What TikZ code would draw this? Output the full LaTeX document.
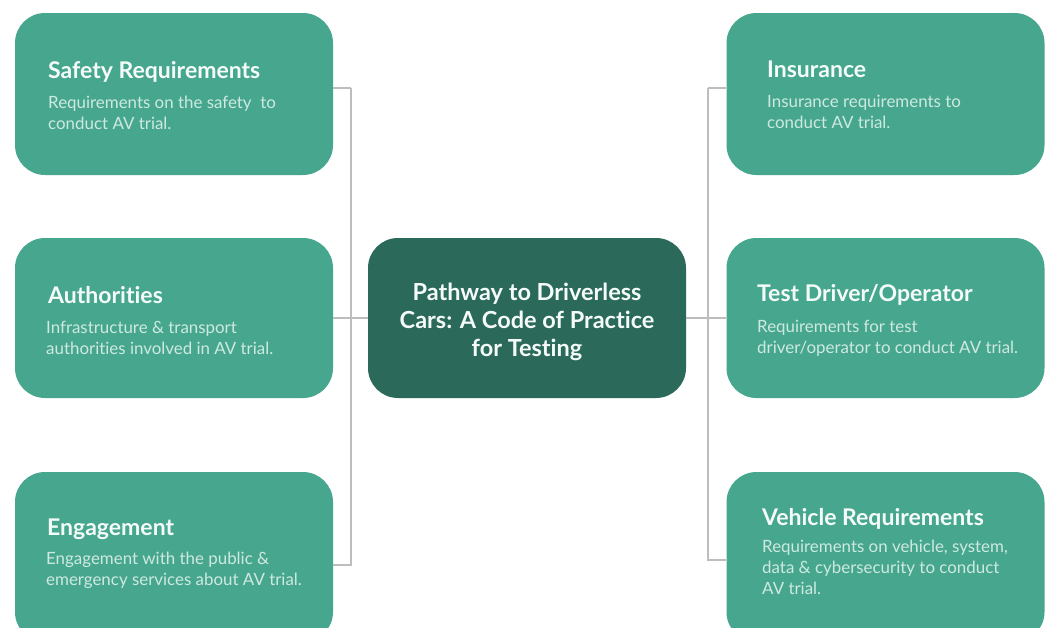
\documentclass[tikz,border=0pt]{standalone}
\usepackage{fontspec}
\setmainfont{Lato}[Ligatures=CommonOff]
\definecolor{boxgreen}{HTML}{46A78E}
\definecolor{darkgreen}{HTML}{2B6A5A}
\definecolor{linegray}{HTML}{BDBDBD}
\definecolor{titlewhite}{HTML}{F5FBF9}
\definecolor{descwhite}{HTML}{CFE9E1}
\begin{document}
\begin{tikzpicture}[x=1pt,y=-1pt,
  lbox/.style={fill=boxgreen,rounded corners=30pt,minimum width=318pt,inner sep=0pt},
  cbox/.style={fill=darkgreen,rounded corners=30pt,minimum width=318pt,minimum height=160pt,inner sep=0pt},
  ttl/.style={anchor=base west,inner sep=0pt,text=titlewhite,font=\fontsize{23}{27}\selectfont\bfseries},
  dsc/.style={anchor=base west,inner sep=0pt,text=descwhite,font=\fontsize{16.9}{21}\selectfont},
  ctxt/.style={inner sep=0pt,text=titlewhite,align=center,font=\fontsize{23.5}{28}\selectfont\bfseries},
  conn/.style={draw=linegray,line width=2pt}]
\useasboundingbox (0,0) rectangle (1052,627);
\fill[white] (0,0) rectangle (1052,627);
\begin{scope}
\clip (0,0) rectangle (1052,627);
% boxes
\node[lbox,minimum height=162pt] (safety) at (174,94) {};
\node[lbox,minimum height=160pt] (auth) at (174,318) {};
\node[lbox,minimum height=170pt] (engage) at (174,557) {};
\node[lbox,minimum height=162pt] (ins) at (885.5,94) {};
\node[lbox,minimum height=160pt] (test) at (885.5,318) {};
\node[lbox,minimum height=170pt] (veh) at (885.5,557) {};
\node[cbox] (center) at (527,318) {};
\end{scope}
% center text
\node[ctxt] (ctext) at (527,322) {Pathway to Driverless\\Cars: A Code of Practice\\for Testing};
% titles and descriptions
\node[ttl] (t1) at (48,78) {Safety Requirements};
\node[dsc] (d1a) at (48,108) {Requirements on the safety\ \ to};
\node[dsc] (d1b) at (48,129) {conduct AV trial.};
\node[ttl] (t2) at (48,303) {Authorities};
\node[dsc] (d2a) at (46,333) {Infrastructure \& transport};
\node[dsc] (d2b) at (46,354) {authorities involved in AV trial.};
\node[ttl] (t3) at (47,535) {Engagement};
\node[dsc] (d3a) at (46,564) {Engagement with the public \&};
\node[dsc] (d3b) at (46,585) {emergency services about AV trial.};
\node[ttl] (t4) at (767,77) {Insurance};
\node[dsc] (d4a) at (767,107) {Insurance requirements to};
\node[dsc] (d4b) at (767,128) {conduct AV trial.};
\node[ttl] (t5) at (757,301) {Test Driver/Operator};
\node[dsc] (d5a) at (757,332) {Requirements for test};
\node[dsc] (d5b) at (757,353) {driver/operator to conduct AV trial.};
\node[ttl] (t6) at (762,525) {Vehicle Requirements};
\node[dsc] (d6a) at (762,552) {Requirements on vehicle, system,};
\node[dsc] (d6b) at (762,573) {data \& cybersecurity to conduct};
\node[dsc] (d6c) at (762,594) {AV trial.};
% connectors
\coordinate (lbus) at (351,0);
\coordinate (rbus) at (708,0);
\draw[conn] ([yshift=6pt]safety.east) -| ([yshift=-88pt]lbus) coordinate (ltop);
\draw[conn] ([yshift=-8pt]engage.east) -| (ltop);
\draw[conn] (auth.east) -- (center.west);
\draw[conn] ([yshift=6pt]ins.west) -| ([yshift=-88pt]rbus) coordinate (rtop);
\draw[conn] ([yshift=-3pt]veh.west) -| (rtop);
\draw[conn] (center.east) -- (test.west);
\end{tikzpicture}
\end{document}
